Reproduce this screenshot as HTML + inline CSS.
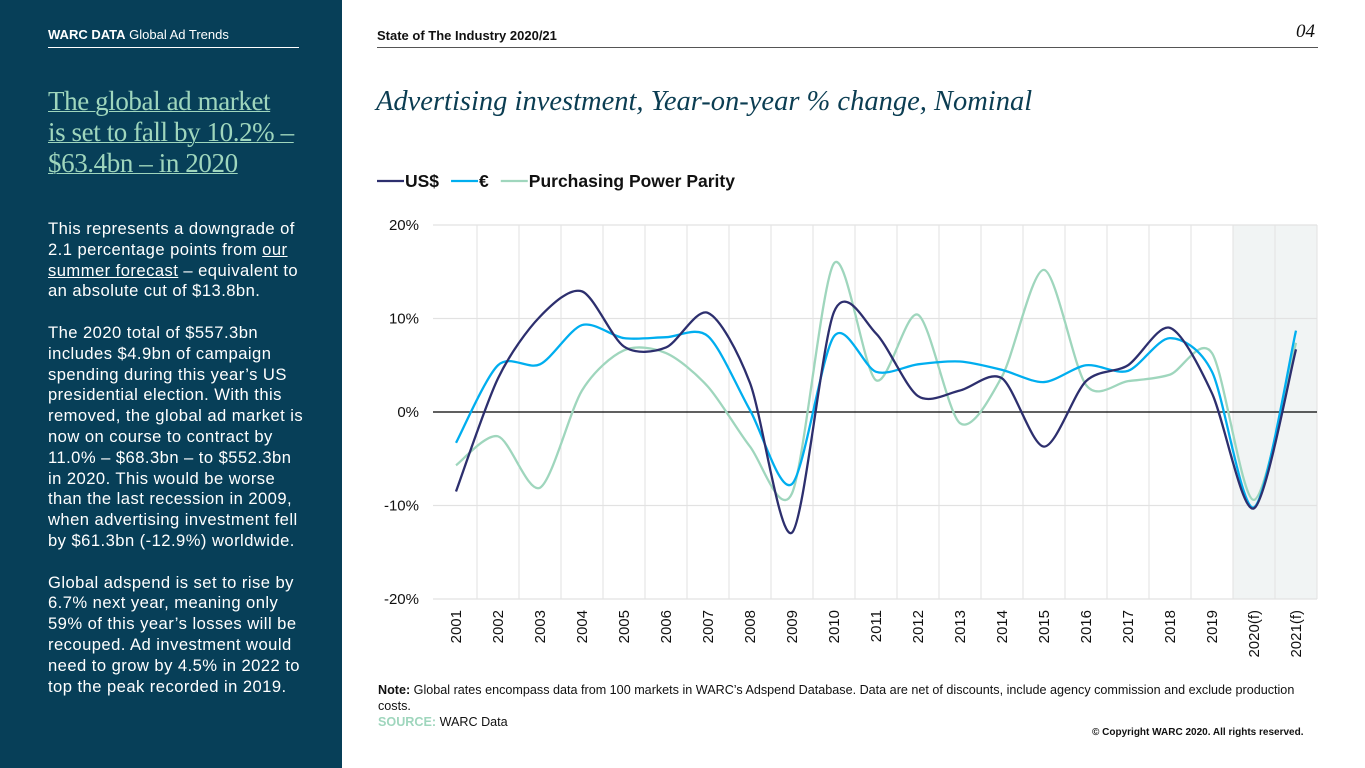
<!DOCTYPE html>
<html><head><meta charset="utf-8"><style>
body{margin:0;width:1365px;height:768px;overflow:hidden;background:#fff;font-family:"Liberation Sans",sans-serif;position:relative}
.side{position:absolute;left:0;top:0;width:342px;height:768px;background:#073f58;color:#fff}
.abs{position:absolute;white-space:nowrap}
</style></head><body>
<div class="side">
<div class="abs" style="left:48px;top:27px;font-size:13px"><b>WARC DATA</b> Global Ad Trends</div>
<div class="abs" style="left:48px;top:47px;width:251px;height:1px;background:#fff"></div>
<div class="abs" style="left:48px;top:86px;font-family:'Liberation Serif',serif;font-size:27px;line-height:31px;color:#9fd6bd;text-decoration:underline;text-decoration-thickness:1px;letter-spacing:-0.4px">The global ad market<br>is set to fall by 10.2% –<br>$63.4bn – in 2020</div>
<div class="abs" style="left:48px;top:219px;font-size:16.6px;line-height:20.8px;letter-spacing:0.45px">This represents a downgrade of<br>2.1 percentage points from <u>our</u><br><u>summer forecast</u> – equivalent to<br>an absolute cut of $13.8bn.<br><br>The 2020 total of $557.3bn<br>includes $4.9bn of campaign<br>spending during this year’s US<br>presidential election. With this<br>removed, the global ad market is<br>now on course to contract by<br>11.0% – $68.3bn – to $552.3bn<br>in 2020. This would be worse<br>than the last recession in 2009,<br>when advertising investment fell<br>by $61.3bn (-12.9%) worldwide.<br><br>Global adspend is set to rise by<br>6.7% next year, meaning only<br>59% of this year’s losses will be<br>recouped. Ad investment would<br>need to grow by 4.5% in 2022 to<br>top the peak recorded in 2019.</div>
</div>
<div class="abs" style="left:377px;top:28px;font-size:13px;font-weight:bold;color:#111">State of The Industry 2020/21</div>
<div class="abs" style="left:1296px;top:21px;font-family:'Liberation Serif',serif;font-style:italic;font-size:19px;color:#111">04</div>
<div class="abs" style="left:377px;top:47px;width:941px;height:1px;background:#555"></div>
<div class="abs" style="left:376px;top:86px;font-family:'Liberation Serif',serif;font-style:italic;font-size:28.5px;color:#0b3d52">Advertising investment, Year-on-year % change, Nominal</div>
<svg class="abs" style="left:0;top:0" width="1365" height="768">
<g id="legend" font-size="17.5" font-weight="bold" font-family="Liberation Sans" fill="#111"></g>
<g id="grid"></g><g id="lines"></g><g id="axes" font-size="15" fill="#111" font-family="Liberation Sans"></g>
</svg>
<div class="abs" style="left:378px;top:682px;font-size:12.6px;line-height:16px;color:#111;white-space:normal;width:930px"><b>Note:</b> Global rates encompass data from 100 markets in WARC’s Adspend Database. Data are net of discounts, include agency commission and exclude production costs.<br><b style="color:#9fd6bd">SOURCE:</b> WARC Data</div>
<div class="abs" style="left:1092px;top:727px;font-size:10px;font-weight:bold;color:#111">© Copyright WARC 2020. All rights reserved.</div>
<script>
const categories=["2001","2002","2003","2004","2005","2006","2007","2008","2009","2010","2011","2012","2013","2014","2015","2016","2017","2018","2019","2020(f)","2021(f)"];
const usd=[-8.5,3.6,10.2,12.9,7.0,6.9,10.6,3.1,-12.9,10.7,8.4,1.7,2.3,3.6,-3.7,3.3,5.0,9.0,2.0,-10.3,6.7];
const eur=[-3.3,5.0,5.1,9.3,7.9,8.0,8.1,0.2,-7.7,8.1,4.3,5.1,5.4,4.5,3.2,5.0,4.4,7.9,4.3,-10.2,8.7];
const ppp=[-5.7,-2.6,-8.1,2.3,6.6,6.3,2.7,-3.7,-8.7,15.9,3.4,10.4,-1.2,3.8,15.2,2.9,3.3,4.0,6.3,-9.4,7.4];
const yTicks=[20,10,0,-10,-20];
const series=[["usd-line",usd,"#2d2f6e"],["euro-line",eur,"#00aeef"],["ppp-line",ppp,"#9fd6bd"]];
const legendLabels=["US$","€","Purchasing Power Parity"];
const NS="http://www.w3.org/2000/svg";
const L=435,R=1317,T=225,B=599,n=categories.length,step=(R-L)/n;
const x=i=>L+step*(i+0.5);
const y=v=>T+(20-v)*(B-T)/40;
function mk(tag,attrs,parent){const e=document.createElementNS(NS,tag);for(const k in attrs)e.setAttribute(k,attrs[k]);parent.appendChild(e);return e;}
const grid=document.getElementById('grid'),lines=document.getElementById('lines'),axes=document.getElementById('axes'),leg=document.getElementById('legend');
let sh=mk('rect',{x:L+step*19,y:T,width:step*2,height:B-T,fill:'#f1f4f4'},grid);


for(let i=1;i<=n;i++){let g=mk('line',{x1:L+step*i,x2:L+step*i,y1:T,y2:B,stroke:'#e2e2e2','stroke-width':1},grid);

}
yTicks.forEach(t=>{let g=mk('line',{x1:L-2,x2:R,y1:y(t),y2:y(t),stroke:t===0?'#000':'#e2e2e2','stroke-width':t===0?1.2:1.3},grid);


let tx=mk('text',{x:419,y:y(t)+5,'text-anchor':'end'},axes);tx.textContent=t+'%';

});
categories.forEach((c,i)=>{let tx=mk('text',{transform:`translate(${x(i)+5},610) rotate(-90)`,'text-anchor':'end'},axes);tx.textContent=c;

});
function path(vals){const p=vals.map((v,i)=>[x(i),y(v)]);let d=`M${p[0][0]},${p[0][1]}`;
for(let i=0;i<p.length-1;i++){const p0=p[i-1]||p[i],p1=p[i],p2=p[i+1],p3=p[i+2]||p2;
const c1=[p1[0]+(p2[0]-p0[0])/7,p1[1]+(p2[1]-p0[1])/7],c2=[p2[0]-(p3[0]-p1[0])/7,p2[1]-(p3[1]-p1[1])/7];
d+=` C${c1[0]},${c1[1]} ${c2[0]},${c2[1]} ${p2[0]},${p2[1]}`;}return d;}
[2,1,0].forEach(k=>{const s=series[k];let pe=mk('path',{d:path(s[1]),fill:'none',stroke:s[2],'stroke-width':2.3},lines);

});
let lx=377;
legendLabels.forEach((lab,k)=>{let g=mk('line',{x1:lx,x2:lx+27,y1:181,y2:181,stroke:series[k][2],'stroke-width':2.3},leg);


let t=mk('text',{x:lx+28,y:187},leg);t.textContent=lab;


lx+=28+t.getComputedTextLength()+12;});
</script>
</body></html>
